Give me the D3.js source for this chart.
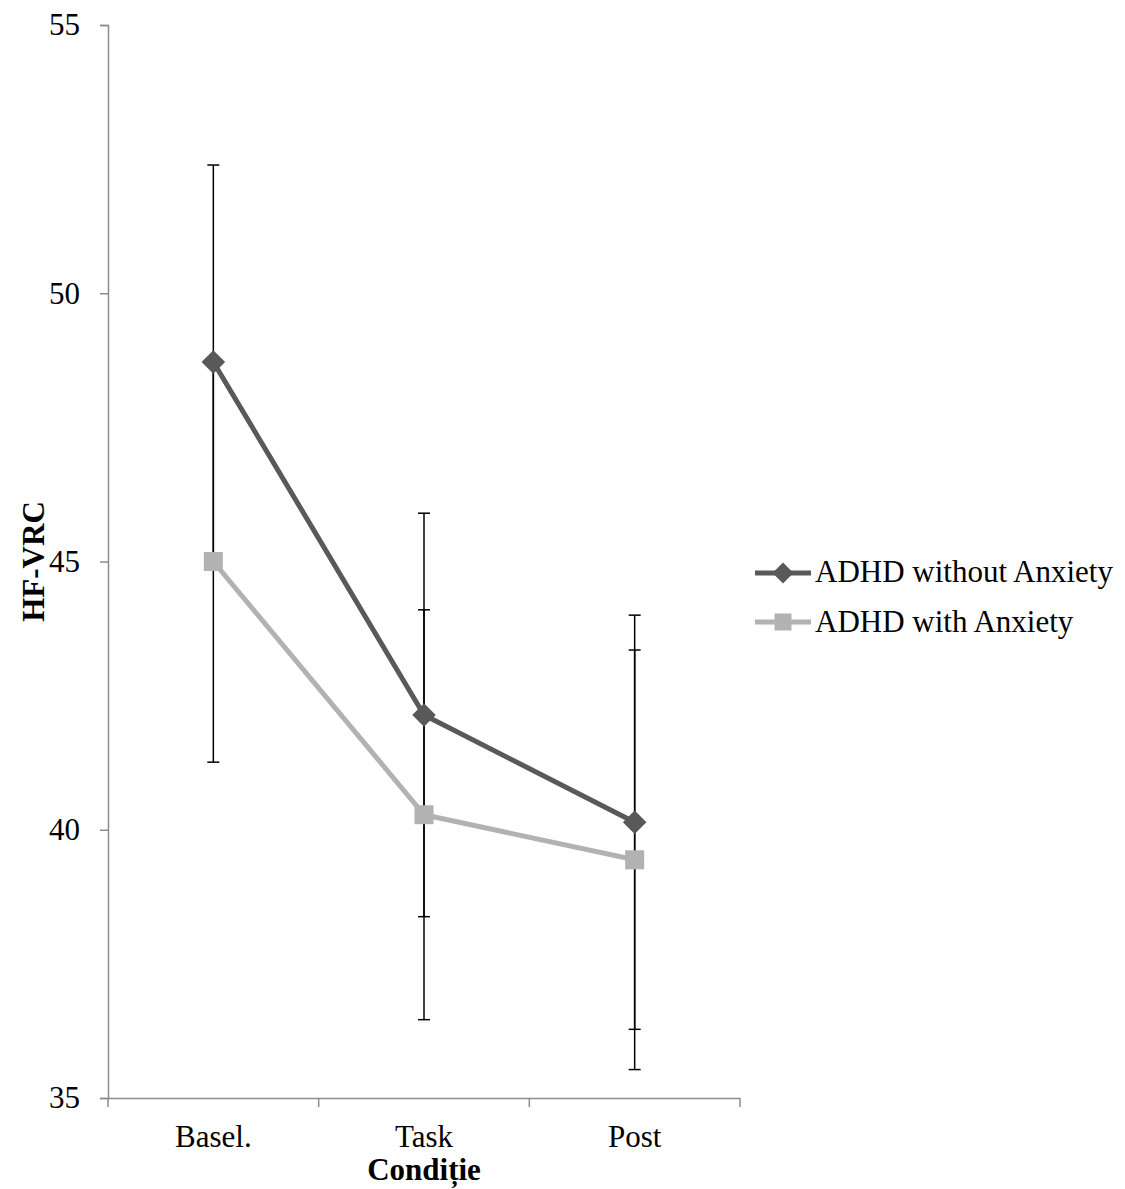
<!DOCTYPE html>
<html><head><meta charset="utf-8">
<script src="https://cdn.jsdelivr.net/npm/d3@7"></script>
<style>body{margin:0;background:#fff}svg{display:block}</style>
</head><body>
<script>
const categories = ["Basel.", "Task", "Post"];
const seriesNames = ["ADHD without Anxiety", "ADHD with Anxiety"];
const withoutAnxiety = [48.72, 42.14, 40.14];
const withoutAnxietyErr = [3.67, 3.76, 3.86];
const withAnxiety = [45.0, 40.28, 39.44];
const withAnxietyErr = [3.74, 3.82, 3.91];
const yTicks = [35, 40, 45, 50, 55];

const W = 1125, H = 1189;
const svg = d3.select("body").append("svg").attr("width", W).attr("height", H);
const font = "'Liberation Serif', 'Times New Roman', serif";
const fs = 31;

const x0 = 108, x1 = 740, yTop = 25, yBot = 1098;
const x = d3.scaleBand().domain(categories).range([x0, x1]);
const y = d3.scaleLinear().domain([35, 55]).range([yBot, yTop]);

const axisColor = "#8c8c8c";
// Y axis
const yAxis = svg.append("g").attr("transform", `translate(${x0},0)`)
  .call(d3.axisLeft(y).tickValues(yTicks).tickSize(8).tickPadding(20).tickFormat(d3.format("d")));
yAxis.select(".domain").attr("stroke", axisColor).attr("stroke-width", 1.5);
yAxis.selectAll(".tick line").attr("stroke", axisColor).attr("stroke-width", 1.5);
yAxis.selectAll("text").attr("font-family", font).attr("font-size", fs).attr("fill", "#000");

// X axis
const xAxis = svg.append("g").attr("transform", `translate(0,${yBot})`)
  .call(d3.axisBottom(x).tickSize(0).tickPadding(0));
xAxis.select(".domain").attr("stroke", axisColor).attr("stroke-width", 1.5);
xAxis.selectAll("text").attr("font-family", font).attr("font-size", fs).attr("fill", "#000")
  .attr("dy", null).attr("y", 49);
// tick marks at band boundaries
const boundaries = categories.map(c => x(c)).concat([x1]);
svg.append("g").selectAll("line").data(boundaries).join("line")
  .attr("x1", d => d).attr("x2", d => d).attr("y1", yBot).attr("y2", yBot + 9)
  .attr("stroke", axisColor).attr("stroke-width", 1.5);

// Axis titles
svg.append("text").attr("x", x((categories[1])) + x.bandwidth()/2).attr("y", 1180)
  .attr("text-anchor", "middle").attr("font-family", font).attr("font-size", fs)
  .attr("font-weight", "bold").text("Condiție");
svg.append("text").attr("transform", `translate(44,${(yTop+yBot)/2}) rotate(-90)`)
  .attr("text-anchor", "middle").attr("font-family", font).attr("font-size", fs)
  .attr("font-weight", "bold").text("HF-VRC");

const cx = c => x(c) + x.bandwidth()/2;
const series = [
  {name: seriesNames[0], vals: withoutAnxiety, err: withoutAnxietyErr, color: "#595959", shape: "diamond"},
  {name: seriesNames[1], vals: withAnxiety, err: withAnxietyErr, color: "#b2b2b2", shape: "square"}
];

// Lines
const line = d3.line().x((d,i) => cx(categories[i])).y(d => y(d));
series.forEach(s => {
  svg.append("path").datum(s.vals).attr("d", line).attr("fill", "none")
    .attr("stroke", s.color).attr("stroke-width", 5).attr("stroke-linejoin", "round");
});

// Error bars
series.forEach(s => {
  const g = svg.append("g");
  s.vals.forEach((v, i) => {
    const px = cx(categories[i]);
    const hi = y(v + s.err[i]), lo = y(v - s.err[i]);
    g.append("line").attr("x1", px).attr("x2", px).attr("y1", hi).attr("y2", lo)
      .attr("stroke", "#000").attr("stroke-width", 1.5);
    [hi, lo].forEach(yy => g.append("line").attr("x1", px - 6).attr("x2", px + 6)
      .attr("y1", yy).attr("y2", yy).attr("stroke", "#000").attr("stroke-width", 1.5));
  });
});

// Markers
function drawMarker(g, shape, px, py, color, size) {
  if (shape === "diamond") {
    const r = size * 0.62;
    g.append("path").attr("d", `M${px},${py-r}L${px+r},${py}L${px},${py+r}L${px-r},${py}Z`).attr("fill", color);
  } else {
    const h = size / 2;
    g.append("rect").attr("x", px - h).attr("y", py - h).attr("width", size).attr("height", size).attr("fill", color);
  }
}
series.forEach(s => {
  const g = svg.append("g");
  s.vals.forEach((v, i) => drawMarker(g, s.shape, cx(categories[i]), y(v), s.color, 19));
});

// Legend
series.forEach((s, i) => {
  const ly = 573 + i * 49;
  const g = svg.append("g");
  g.append("line").attr("x1", 755).attr("x2", 811).attr("y1", ly).attr("y2", ly)
    .attr("stroke", s.color).attr("stroke-width", 5);
  drawMarker(g, s.shape, 783, ly, s.color, 17);
  g.append("text").attr("x", 815).attr("y", ly + 9 + i * 1).attr("font-family", font)
    .attr("font-size", fs).text(s.name);
});
</script>
</body></html>
